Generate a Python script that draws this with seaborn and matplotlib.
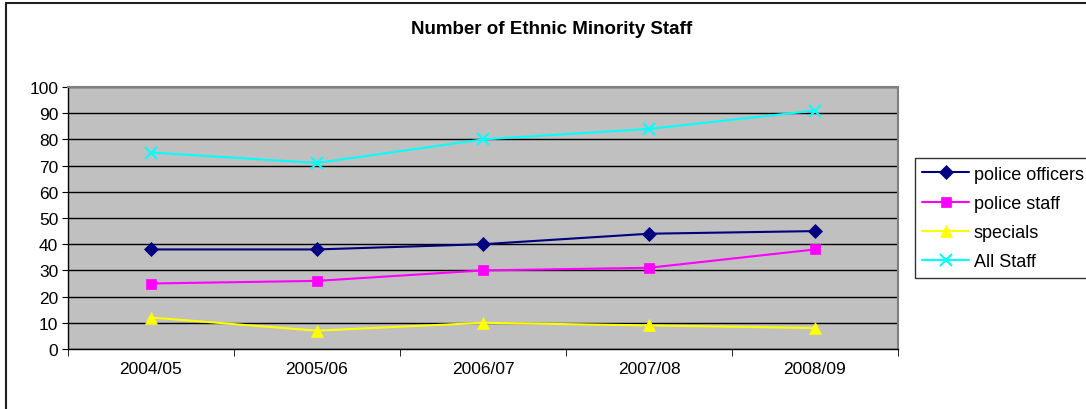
import pandas as pd
import numpy as np
import matplotlib.pyplot as plt
import seaborn as sns
from matplotlib.lines import Line2D

# -----------------------------
# DATA
# -----------------------------
years = ['2004/05', '2005/06', '2006/07', '2007/08', '2008/09']
police_officers = [38, 38, 40, 44, 45]
police_staff = [25, 26, 30, 31, 38]
specials = [12, 7, 10, 9, 8]
all_staff = [75, 71, 80, 84, 91]

series = [
    ('police officers', police_officers, '#000080', 'D', 7),
    ('police staff', police_staff, '#FF00FF', 's', 7),
    ('specials', specials, '#FFFF00', '^', 8),
    ('All Staff', all_staff, '#00FFFF', 'x', 8),
]

# -----------------------------
# PLOT
# -----------------------------
sns.set_style('white')
plt.rcParams['font.family'] = ['Liberation Sans', 'DejaVu Sans']
plt.rcParams['text.color'] = 'black'
plt.rcParams['xtick.color'] = 'black'
plt.rcParams['ytick.color'] = 'black'

W, H = 1086, 410
fig = plt.figure(figsize=(W / 100, H / 100), dpi=100)
ax = fig.add_axes([68 / W, 1 - 350 / H, (898 - 68) / W, (350 - 88) / H])
ax.set_facecolor('#C0C0C0')

for name, vals, color, marker, ms in series:
    sns.lineplot(x=years, y=vals, ax=ax, color=color, marker=marker,
                 markersize=ms, markeredgecolor=color,
                 markeredgewidth=1.5 if marker == 'x' else 0.5,
                 linewidth=1.5, label=name, legend=False)

ax.set_xlim(-0.5, 4.5)
ax.set_ylim(0, 100)
ax.set_yticks(range(0, 101, 10))
ax.yaxis.grid(True, color='black', linewidth=1)
ax.xaxis.grid(False)
ax.set_axisbelow(True)
ax.set_xticks(range(len(years)))
ax.set_xticklabels(years)
ax.set_xticks(np.arange(-0.5, 5, 1), minor=True)
ax.tick_params(axis='x', which='major', length=0, labelsize=12.5, pad=9)
ax.tick_params(axis='x', which='minor', length=5, color='black', direction='out', bottom=True)
ax.tick_params(axis='y', length=4, labelsize=12.5, color='black', direction='out', left=True, pad=3)
ax.set_xlabel('')
ax.set_ylabel('')
for side in ['left', 'bottom']:
    ax.spines[side].set_color('black')
    ax.spines[side].set_linewidth(1)
for side in ['top', 'right']:
    ax.spines[side].set_color('#808080')
    ax.spines[side].set_linewidth(1.5)

fig.text(552 / W, 1 - 30 / H, 'Number of Ethnic Minority Staff',
         ha='center', va='center', fontsize=13.5, fontweight='bold')

handles, labels = ax.get_legend_handles_labels()
leg = fig.legend(handles, labels, loc='center left', bbox_to_anchor=(915 / W, 1 - 219 / H),
                 fontsize=13, frameon=True, fancybox=False, handlelength=2.6,
                 borderpad=0.4, labelspacing=0.68, handletextpad=0.25, borderaxespad=0)
leg.get_frame().set_edgecolor('black')
leg.get_frame().set_linewidth(1)

# outer chart border (top and left edges visible in the crop)
fig.add_artist(Line2D([6 / W, 1], [1 - 4 / H, 1 - 4 / H], transform=fig.transFigure,
                      color='#202020', linewidth=1.5))
fig.add_artist(Line2D([6 / W, 6 / W], [0, 1 - 4 / H], transform=fig.transFigure,
                      color='#202020', linewidth=1.5))

fig.savefig('out.png', dpi=100)
